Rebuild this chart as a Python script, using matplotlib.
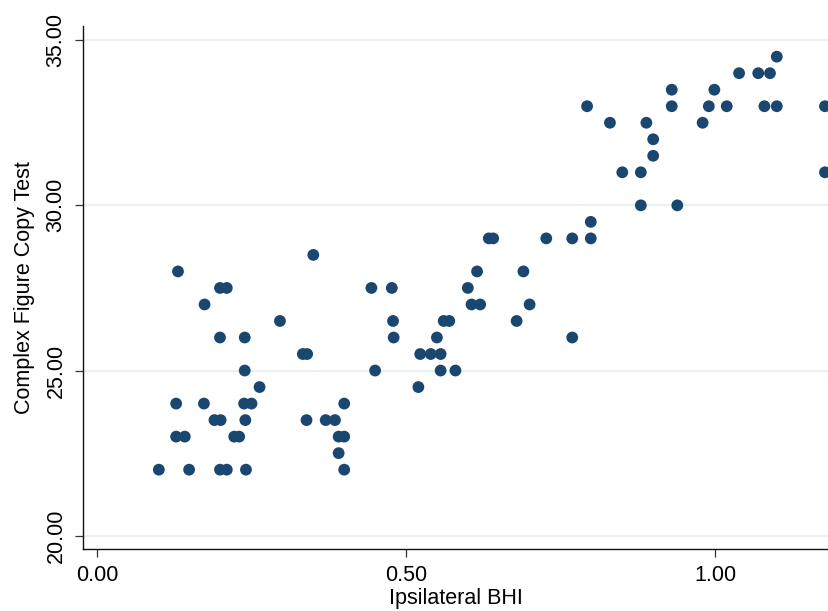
#!/usr/bin/env python3
"""
散布図: Ipsilateral BHI vs Complex Figure Copy Test
"""

import matplotlib
matplotlib.use('Agg')
import matplotlib.pyplot as plt

# データ
bhi = [
    0.131, 0.174, 0.199, 0.210, 0.296, 0.350, 0.444, 0.477, 0.479, 0.480,
    0.199, 0.239, 0.333, 0.340, 0.450, 0.239, 0.263, 0.128, 0.173, 0.238,
    0.250, 0.400, 0.190, 0.200, 0.240, 0.339, 0.370, 0.385, 0.128, 0.142,
    0.222, 0.230, 0.391, 0.400, 0.391, 0.100, 0.149, 0.199, 0.210, 0.241,
    0.400, 0.520, 0.523, 0.540, 0.556, 0.556, 0.580, 0.550, 0.561, 0.570,
    0.606, 0.620, 0.600, 0.615, 0.634, 0.641, 0.679, 0.700, 0.690, 0.727,
    0.769, 0.769, 0.799, 0.799, 0.793, 0.830, 0.889, 0.900, 0.900, 0.850,
    0.880, 0.880, 0.939, 0.930, 0.930, 0.980, 0.990, 0.999, 1.019, 1.039,
    1.070, 1.089, 1.100, 1.080, 1.100, 1.178, 1.178,
]
copy_score = [
    28.0, 27.0, 27.5, 27.5, 26.5, 28.5, 27.5, 27.5, 26.5, 26.0,
    26.0, 26.0, 25.5, 25.5, 25.0, 25.0, 24.5, 24.0, 24.0, 24.0,
    24.0, 24.0, 23.5, 23.5, 23.5, 23.5, 23.5, 23.5, 23.0, 23.0,
    23.0, 23.0, 23.0, 23.0, 22.5, 22.0, 22.0, 22.0, 22.0, 22.0,
    22.0, 24.5, 25.5, 25.5, 25.5, 25.0, 25.0, 26.0, 26.5, 26.5,
    27.0, 27.0, 27.5, 28.0, 29.0, 29.0, 26.5, 27.0, 28.0, 29.0,
    29.0, 26.0, 29.0, 29.5, 33.0, 32.5, 32.5, 32.0, 31.5, 31.0,
    31.0, 30.0, 30.0, 33.5, 33.0, 32.5, 33.0, 33.5, 33.0, 34.0,
    34.0, 34.0, 34.5, 33.0, 33.0, 33.0, 31.0,
]
x_ticks = [0.0, 0.5, 1.0]
y_ticks = [20, 25, 30, 35]

plt.rcParams['font.family'] = ['Liberation Sans', 'DejaVu Sans']

fig = plt.figure(figsize=(8.29, 6.11), dpi=100)
ax = fig.add_axes([0.1005, 0.101, 0.8995, 0.856])

# グリッド（横線のみ）
ax.set_axisbelow(True)
ax.yaxis.grid(True, color='#e8f0f2', linewidth=1.5)

ax.scatter(bhi, copy_score, s=72, color='#1a476f', edgecolors='none',
           zorder=3, clip_on=True)

ax.set_xlim(-0.0222, 1.1845)
ax.set_ylim(19.59, 35.42)

ax.set_xticks(x_ticks)
ax.set_xticklabels([f'{v:.2f}' for v in x_ticks])
ax.set_yticks(y_ticks)
ax.set_yticklabels([f'{v:.2f}' for v in y_ticks], rotation=90, va='center')

ax.tick_params(axis='both', labelsize=15.5, length=5.5, width=0.9,
               color='#333333', direction='out')
ax.tick_params(axis='x', pad=5.5)
ax.tick_params(axis='y', pad=6.5)

for side in ['top', 'right']:
    ax.spines[side].set_visible(False)
for side in ['left', 'bottom']:
    ax.spines[side].set_linewidth(1.0)
    ax.spines[side].set_color('#111111')

ax.set_xlabel('Ipsilateral BHI', fontsize=15.5, labelpad=2)
ax.set_ylabel('Complex Figure Copy Test', fontsize=15.5, labelpad=8)

plt.savefig('out.png', dpi=100)
